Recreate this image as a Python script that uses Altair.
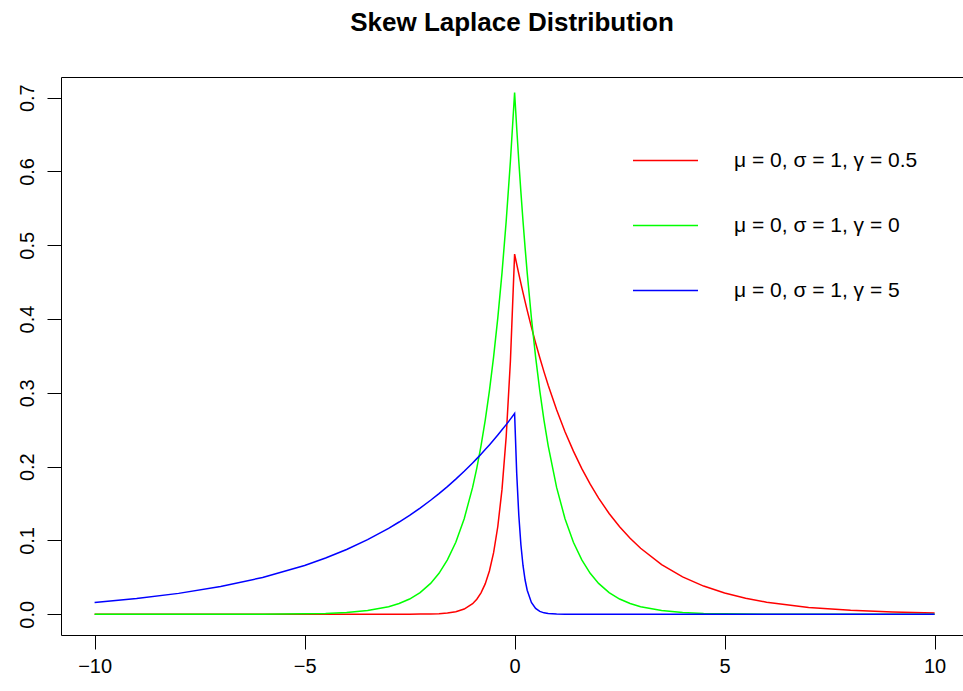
import altair as alt
import pandas as pd

# x positions at which the curves were read
X = [-10, -9, -8, -7, -6, -5, -4.5, -4, -3.5, -3, -2.75, -2.5, -2.25, -2, -1.8, -1.6, -1.4, -1.2, -1.0,
     -0.9, -0.8, -0.7, -0.6, -0.5, -0.4, -0.3, -0.2, -0.1, 0,
     0.05, 0.1, 0.15, 0.2, 0.25, 0.3, 0.4, 0.5, 0.6, 0.7, 0.8, 1.0, 1.2, 1.4, 1.6, 1.8, 2.0,
     2.25, 2.5, 2.75, 3, 3.5, 4, 4.5, 5, 5.5, 6, 7, 8, 9, 10]

RED = [0, 0, 0, 0, 0, 0, 0, 0, 0, 0, 0.0000, 0.0001, 0.0002, 0.0004, 0.0008, 0.0017, 0.0035, 0.0071, 0.0143,
       0.0204, 0.0290, 0.0412, 0.0587, 0.0835, 0.1189, 0.1692, 0.2409, 0.3429, 0.4880,
       0.4744, 0.4612, 0.4483, 0.4358, 0.4236, 0.4118, 0.3891, 0.3677, 0.3475, 0.3284, 0.3103, 0.2771,
       0.2474, 0.2210, 0.1973, 0.1762, 0.1573, 0.1366, 0.1185, 0.1029, 0.0894, 0.0673, 0.0507, 0.0382,
       0.0288, 0.0217, 0.0164, 0.0093, 0.0053, 0.0030, 0.0017]

GREEN = [0, 0, 0, 0, 0.0001, 0.0006, 0.0012, 0.0025, 0.0050, 0.0102, 0.0145, 0.0206, 0.0293, 0.0418, 0.0555,
         0.0736, 0.0976, 0.1295, 0.1719, 0.1981, 0.2282, 0.2628, 0.3027, 0.3487, 0.4016, 0.4626, 0.5329,
         0.6139, 0.7071,
         0.6588, 0.6139, 0.5720, 0.5329, 0.4965, 0.4626, 0.4016, 0.3487, 0.3027, 0.2628, 0.2282, 0.1719,
         0.1295, 0.0976, 0.0736, 0.0555, 0.0418, 0.0293, 0.0206, 0.0145, 0.0102, 0.0050, 0.0025, 0.0012,
         0.0006, 0.0003, 0.0001, 0, 0, 0, 0]

BLUE = [0.0161, 0.0213, 0.0283, 0.0376, 0.0498, 0.0661, 0.0762, 0.0878, 0.1011, 0.1164, 0.1250, 0.1341,
        0.1439, 0.1545, 0.1635, 0.1730, 0.1831, 0.1937, 0.2050, 0.2109, 0.2169, 0.2231, 0.2295, 0.2361,
        0.2429, 0.2499, 0.2570, 0.2644, 0.2720,
        0.1910, 0.1341, 0.0942, 0.0661, 0.0464, 0.0326, 0.0161, 0.0079, 0.0039, 0.0019, 0.0009, 0.0002,
        0.0001, 0, 0, 0, 0, 0, 0, 0, 0, 0, 0, 0, 0, 0, 0, 0, 0, 0, 0]

LABELS = ["μ = 0, σ = 1, γ = 0.5", "μ = 0, σ = 1, γ = 0", "μ = 0, σ = 1, γ = 5"]
COLORS = ["#FF0000", "#00FF00", "#0000FF"]
X_TICKS = [-10, -5, 0, 5, 10]
Y_TICKS = [0.0, 0.1, 0.2, 0.3, 0.4, 0.5, 0.6, 0.7]
TITLE = "Skew Laplace Distribution"

rows = []
for order, (lab, vals) in enumerate(zip(LABELS, [RED, GREEN, BLUE])):
    for xv, yv in zip(X, vals):
        rows.append({"x": xv, "y": yv, "series": lab, "ord": order})
df = pd.DataFrame(rows)

FONT = "Liberation Sans"
xscale = alt.Scale(domain=[-10.8, 10.676], nice=False, zero=False)
yscale = alt.Scale(domain=[-0.0281, 0.728], nice=False, zero=False)

lines = alt.Chart(df).mark_line(strokeWidth=1.5, clip=True).encode(
    x=alt.X("x:Q", scale=xscale, title=None,
            axis=alt.Axis(values=X_TICKS, format="d", grid=False, domain=True, domainColor="black",
                          domainWidth=1, tickColor="black", tickSize=14, tickWidth=1,
                          labelFont=FONT, labelFontSize=20, labelColor="black", labelPadding=7,
                          labelFlush=False)),
    y=alt.Y("y:Q", scale=yscale, title=None,
            axis=alt.Axis(values=Y_TICKS, format=".1f", grid=False, domain=True, domainColor="black",
                          domainWidth=1, tickColor="black", tickSize=14, tickWidth=1,
                          labelFont=FONT, labelFontSize=20, labelColor="black", labelAngle=270,
                          labelAlign="center", labelBaseline="bottom", labelPadding=10,
                          labelFlush=False)),
    color=alt.Color("series:N", sort=LABELS, scale=alt.Scale(domain=LABELS, range=COLORS),
                    legend=alt.Legend(title=None, orient="none", legendX=571, legendY=50,
                                      symbolType="stroke", symbolSize=4225, symbolStrokeWidth=1.5,
                                      labelFont=FONT, labelFontSize=21, labelColor="black",
                                      labelLimit=500, labelOffset=35, rowPadding=21, padding=0)),
    order=alt.Order("ord:Q"),
)

top = alt.Chart(df).mark_line(opacity=0).encode(
    x=alt.X("x:Q", scale=xscale, title=None,
            axis=alt.Axis(orient="top", labels=False, ticks=False, grid=False, domain=True,
                          domainColor="black", domainWidth=1)),
    y=alt.Y("y:Q", scale=yscale, axis=None),
    detail="series:N",
)

chart = alt.layer(lines, top).resolve_axis(x="independent", y="independent").properties(
    width=902, height=558,
    autosize=alt.AutoSizeParams(type="none"),
    padding={"left": 61, "top": 77, "right": 0, "bottom": 56},
    title=alt.Title(TITLE, font=FONT, fontSize=26, fontWeight="bold", color="black",
                    anchor="middle", baseline="alphabetic", offset=20),
).configure_view(stroke=None)

chart.save("out.html", embed_options={"renderer": "svg", "actions": False})
